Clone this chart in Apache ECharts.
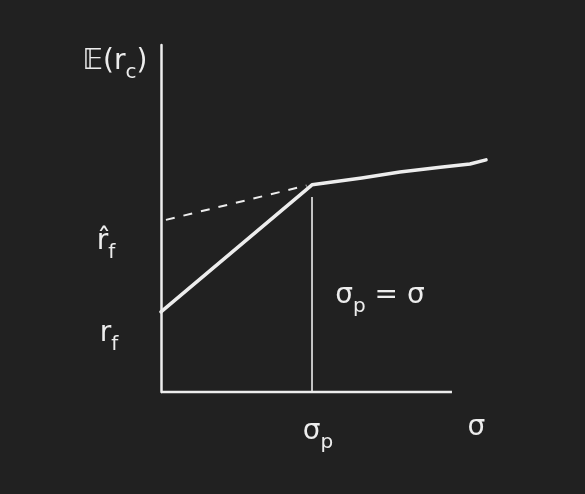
<!DOCTYPE html>
<html><head><meta charset="utf-8">
<script src="https://cdn.jsdelivr.net/npm/echarts@6/dist/echarts.min.js"></script>
<style>html,body{margin:0;padding:0;background:#212121;}#c{width:585px;height:494px;}</style>
</head><body><div id="c"></div>
<script>
// Data (in abstract chart units: x = σ, y = E(r_c))
const riskFree = 2.31;          // r_f
const riskFreeHat = 4.96;       // r̂_f (borrowing rate intercept)
const sigmaP = 5.19;            // σ_p
const axisEndX = 10;            // end of the drawn σ axis
const allocationX = [0, 5.19, 6.9, 8.21, 9.6, 10.62, 11.17];
const allocationY = [2.31, 5.97, 6.17, 6.34, 6.48, 6.57, 6.69];
const dashedX = [0.17, 5.0];
const dashedY = [4.96, 5.95];
const guideX = [5.19, 5.19];
const guideY = [0, 5.62];

const ink = '#ededed';
const font = '"DejaVu Sans", sans-serif';
const zip = (a, b) => a.map((v, i) => [v, b[i]]);

const chart = echarts.init(document.getElementById('c'));
chart.setOption({
  backgroundColor: '#212121',
  animation: false,
  grid: { left: 161, top: 45, width: 325, height: 347 },
  xAxis: { type: 'value', min: 0, max: 11.17, axisLine: { show: false },
    axisTick: { show: false }, axisLabel: { show: false }, splitLine: { show: false } },
  yAxis: { type: 'value', min: 0, max: 10, axisLine: { show: true, lineStyle: { color: ink, width: 2.5 } },
    axisTick: { show: false }, axisLabel: { show: false }, splitLine: { show: false } },
  series: [
    { type: 'line', data: [[0, 0], [axisEndX, 0]], symbol: 'none', clip: false,
      lineStyle: { color: ink, width: 2.5 } },
    { type: 'line', data: zip(allocationX, allocationY), symbol: 'none', clip: false,
      lineStyle: { color: ink, width: 3.5, cap: 'round', join: 'round' } },
    { type: 'line', data: zip(dashedX, dashedY), symbol: 'none', clip: false,
      lineStyle: { color: ink, width: 2, type: [9, 9] } },
    { type: 'line', data: zip(guideX, guideY), symbol: 'none', clip: false,
      lineStyle: { color: ink, width: 1.6 } }
  ]
});

function px(x, y) { return chart.convertToPixel({ gridIndex: 0 }, [x, y]); }
function label(x, y, rich, text) {
  return { type: 'text', x: x, y: y, style: { text: text, rich: rich, fill: ink, fontSize: 28, fontFamily: font,
    align: 'center', verticalAlign: 'middle' } };
}
const pRf = px(0, riskFree), pRh = px(0, riskFreeHat), pSp = px(sigmaP, 0), pEnd = px(10.84, 0);
const richBase = { b: { fontSize: 28, fontFamily: font, fill: ink }, s: { fontSize: 20, fontFamily: font, fill: ink, padding: [22, 0, 0, 0] } };
chart.setOption({ graphic: [
  label(115, 62, richBase, '{b|𝔼(r}{s|c}{b|)}'),
  label(pRh[0] - 55, pRh[1] + 22, richBase, '{b|r̂}{s|f}'),
  label(pRf[0] - 52, pRf[1] + 22, richBase, '{b|r}{s|f}'),
  label(pSp[0] + 6, pSp[1] + 40, richBase, '{b|σ}{s|p}'),
  label(pEnd[0], pEnd[1] + 36, richBase, '{b|σ}'),
  label(pSp[0] + 68, 296, richBase, '{b|σ}{s|p}{b| = σ}')
]});
</script></body></html>
